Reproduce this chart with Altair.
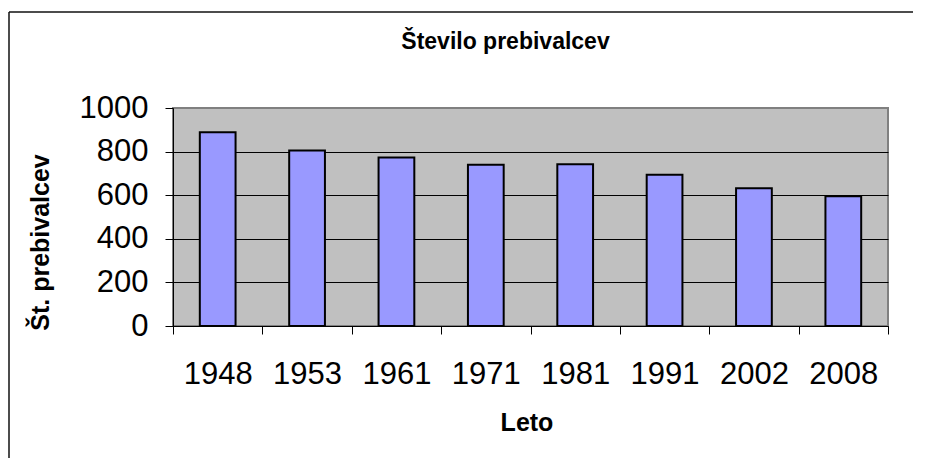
import altair as alt
import pandas as pd

# ---- data ----
years = ["1948", "1953", "1961", "1971", "1981", "1991", "2002", "2008"]
population = [889, 805, 773, 740, 742, 694, 632, 595]
y_ticks = [0, 200, 400, 600, 800, 1000]
chart_title = "Število prebivalcev"

df = pd.DataFrame({"Leto": years, "Prebivalci": population})

W, H = 715, 218
FONT = "Liberation Sans"

bars = alt.Chart(df).mark_bar(
    width=alt.RelativeBandSize(0.4),
    fill="#9999FF",
    stroke="black",
    strokeWidth=2,
).encode(
    x=alt.X(
        "Leto:N",
        sort=years,
        scale=alt.Scale(paddingInner=0, paddingOuter=0),
        axis=alt.Axis(
            title="Leto",
            labelAngle=0,
            labelFont=FONT,
            labelFontSize=31,
            labelBaseline="alphabetic",
            labelPadding=49,
            tickBand="extent",
            tickSize=8,
            tickColor="black",
            domainColor="black",
            grid=False,
            titleFont=FONT,
            titleFontSize=25,
            titleFontWeight="bold",
            titleBaseline="alphabetic",
            titleX=W / 2 - 4,
            titleY=104,
        ),
    ),
    y=alt.Y(
        "Prebivalci:Q",
        scale=alt.Scale(domain=[0, 1000], nice=False),
        axis=alt.Axis(
            title="Št. prebivalcev",
            values=y_ticks,
            format="d",
            labelFont=FONT,
            labelFontSize=31,
            labelPadding=17,
            tickSize=8,
            tickColor="black",
            domainColor="black",
            grid=True,
            gridColor={"condition": {"test": "datum.value >= 1000", "value": "#808080"}, "value": "black"},
            gridWidth=1,
            titleFont=FONT,
            titleFontSize=25,
            titleFontWeight="bold",
            titleAngle=270,
            titleAlign="center",
            titleBaseline="bottom",
            titleX=-120,
            titleY=134,
        ),
    ),
)

one_row = alt.Data(values=[{"k": 1}])

title_text = alt.Chart(one_row).mark_text(
    font=FONT, fontSize=23, fontWeight="bold", color="black",
    align="center", baseline="alphabetic",
).encode(
    text=alt.value(chart_title),
    x=alt.value(W / 2 - 25),
    y=alt.value(-59),
)

top_line = alt.Chart(one_row).mark_rule(color="#111111", strokeWidth=1.5).encode(
    x=alt.value(-164), x2=alt.value(W + 25), y=alt.value(-96)
)
left_line = alt.Chart(one_row).mark_rule(color="#111111", strokeWidth=1.5).encode(
    x=alt.value(-164), y=alt.value(-96), y2=alt.value(H + 132)
)

chart = alt.layer(bars, title_text, top_line, left_line).properties(
    width=W,
    height=H,
    autosize=alt.AutoSizeParams(type="none"),
    padding={"left": 165, "top": 100, "right": 25, "bottom": 132},
).configure(
    background="white",
).configure_view(
    fill="#C0C0C0",
    stroke="#808080",
    strokeWidth=2,
).configure_axis(
    labelColor="black",
    titleColor="black",
)

chart.save("out.html", embed_options={"renderer": "svg", "actions": False})
